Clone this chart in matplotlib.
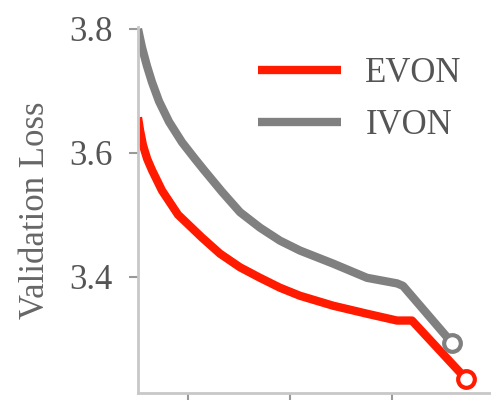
import matplotlib
matplotlib.use('Agg')
import matplotlib.pyplot as plt

# values (x in tick units, ticks at 1, 2, 3)
evon_x = [0.510, 0.530, 0.559, 0.600, 0.647, 0.745, 0.902, 1.137, 1.314, 1.510,
          1.706, 1.902, 2.098, 2.422, 2.755, 3.049, 3.196, 3.725]
evon_y = [3.657, 3.636, 3.612, 3.590, 3.572, 3.539, 3.500, 3.463, 3.437, 3.415,
          3.398, 3.382, 3.369, 3.353, 3.340, 3.329, 3.329, 3.235]

ivon_x = [0.510, 0.549, 0.598, 0.647, 0.716, 0.814, 0.941, 1.069, 1.157, 1.333,
          1.510, 1.706, 1.902, 2.098, 2.422, 2.755, 3.049, 3.108, 3.588]
ivon_y = [3.800, 3.770, 3.740, 3.714, 3.683, 3.650, 3.617, 3.590, 3.572, 3.537,
          3.504, 3.479, 3.458, 3.442, 3.421, 3.398, 3.389, 3.385, 3.293]

x_ticks = [1, 2, 3]
y_ticks = [3.4, 3.6, 3.8]

plt.rcParams['font.family'] = 'Liberation Serif'

fig = plt.figure(figsize=(4.91, 4.0), dpi=100)
ax = fig.add_axes([138 / 491, 7 / 400, 353 / 491, 366 / 400])

ax.plot(evon_x, evon_y, color='#ff1a00', lw=6, label='EVON', solid_capstyle='butt')
ax.plot(ivon_x, ivon_y, color='#808080', lw=6, label='IVON', solid_capstyle='butt')
ax.plot(evon_x[-1], evon_y[-1], 'o', ms=12, mfc='white', mec='#ff1a00', mew=3)
ax.plot(ivon_x[-1], ivon_y[-1], 'o', ms=12, mfc='white', mec='#808080', mew=3)

ax.set_xlim(0.51, 0.51 + 353 / 102)
ax.set_ylim(3.212, 3.803)
ax.set_xticks(x_ticks)
ax.set_xticklabels([])
ax.set_yticks(y_ticks)
ax.set_yticklabels(['3.4', '3.6', '3.8'])

for s in ['top', 'right']:
    ax.spines[s].set_visible(False)
for s in ['left', 'bottom']:
    ax.spines[s].set_color('#c8c8c8')
    ax.spines[s].set_linewidth(2)
ax.tick_params(axis='both', colors='#999999', width=1.5, length=6.5,
               labelsize=25, labelcolor='#555555', pad=12)

ax.set_ylabel('Validation Loss', fontsize=25, color='#666666', labelpad=12)

leg = ax.legend(loc='upper left', bbox_to_anchor=(0.30, 0.955), frameon=False,
                fontsize=25, handlelength=2.4, handletextpad=0.7,
                labelspacing=0.55, borderaxespad=0)
for t in leg.get_texts():
    t.set_color('#555555')

fig.savefig('out.png', dpi=100)
